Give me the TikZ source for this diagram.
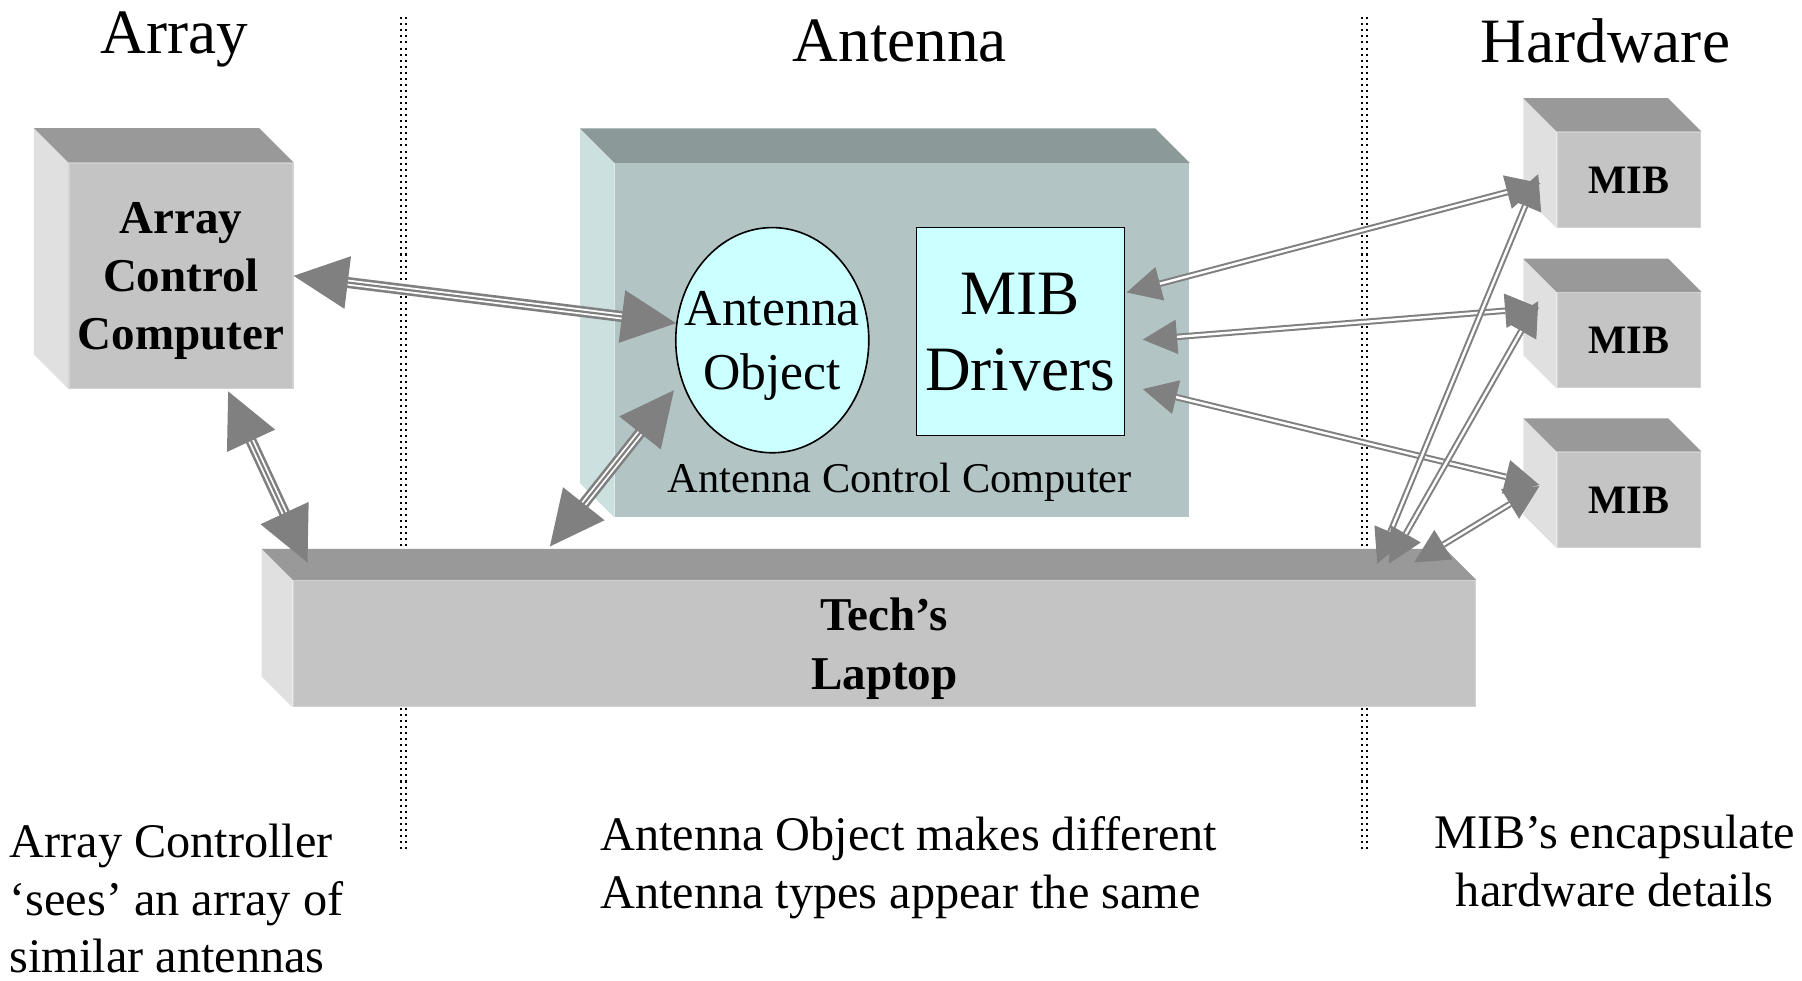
\documentclass[tikz,border=0pt]{standalone}
\usepackage{fontspec}
\setmainfont{Liberation Serif}
\usetikzlibrary{arrows.meta,shapes.geometric}

\definecolor{facegray}{HTML}{C4C4C4}
\definecolor{topgray}{HTML}{999999}
\definecolor{sidegray}{HTML}{E0E0E0}
\definecolor{edgegray}{HTML}{D2D2D2}
\definecolor{acface}{HTML}{B3C4C4}
\definecolor{actop}{HTML}{8C9999}
\definecolor{acside}{HTML}{CCE0E0}
\definecolor{objcyan}{HTML}{CCFFFF}
\definecolor{pipegray}{HTML}{808080}

\tikzset{
  front/.style={fill=facegray, draw=edgegray, line width=0.6pt, inner sep=0pt, align=center},
  head/.style={font=\fontsize{31.3}{37}\selectfont},
  note/.style={font=\fontsize{23.9}{28.5}\selectfont, align=left, inner sep=0pt},
  pipe3/.style={draw=pipegray, line width=1.1pt,
    {Triangle[length=27pt,width=26pt]}-{Triangle[length=27pt,width=26pt]},
    preaction={draw=pipegray, -, line width=1.3pt, double=white, double distance=2.9pt,
      shorten <=26pt, shorten >=26pt}},
  pipe2/.style={draw=pipegray, line width=0.5pt,
    {Triangle[length=17pt,width=17pt]}-{Triangle[length=17pt,width=17pt]},
    postaction={draw=pipegray, -, line width=1pt, double=white, double distance=1.2pt,
      shorten <=17pt, shorten >=17pt}}
}

\begin{document}
\begin{tikzpicture}[x=0.02cm, y=-0.02cm]
\useasboundingbox (0,0) rectangle (1568,853);

% headings
\node[head] at (152,34) (harray) {Array};
\node[head] at (783,36) (hant) {Antenna};
\node[head] at (1397,36) (hhw) {Hardware};

% dividers
\foreach \x in {348.8, 353.2, 1184.8, 1189.2}
  \draw[dotted, line width=1pt] (\x,15) -- (\x,740);

% array control computer
\node[front, minimum width=3.9cm, minimum height=3.92cm, text depth=0pt, font=\bfseries\fontsize{23.3}{28.7}\selectfont] at (157.5,240) (acc) {Array\\Control\\Computer};
\fill[sidegray] (acc.north west) -- ++(-30,-30) -- ([shift={(-30,-30)}]acc.south west) -- (acc.south west) -- cycle;
\fill[topgray] (acc.north west) -- ++(-30,-30) -- ([shift={(-30,-30)}]acc.north east) -- (acc.north east) -- cycle;

% antenna control computer
\node[fill=acface, minimum width=10cm, minimum height=6.16cm] at (785,296) (acf) {};
\fill[acside] (acf.north west) -- ++(-30,-30) -- ([shift={(-30,-30)}]acf.south west) -- (acf.south west) -- cycle;
\fill[actop] (acf.north west) -- ++(-30,-30) -- ([shift={(-30,-30)}]acf.north east) -- (acf.north east) -- cycle;
\node[ellipse, draw=black, line width=0.8pt, fill=objcyan, minimum width=3.36cm, minimum height=3.92cm, inner xsep=-0.36cm, inner ysep=0pt, text depth=0pt, align=center, font=\fontsize{25.6}{31.9}\selectfont] at (672,296) (ao) {Antenna\\Object};
\node[draw=black, fill=objcyan, minimum width=3.62cm, minimum height=3.62cm, text depth=0pt, align=center, font=\fontsize{31.3}{37.6}\selectfont] at (887.5,288.5) (drv) {MIB\\Drivers};
\node[font=\fontsize{21}{25}\selectfont] at (783,420) (accl) {Antenna Control Computer};

% hardware
\foreach \i/\y in {1/156.5, 2/296, 3/435} {
  \node[front, minimum width=2.5cm, minimum height=1.66cm, font=\bfseries\fontsize{20}{24}\selectfont] at (1417.5,\y) (mib\i) {MIB};
  \fill[sidegray] (mib\i.north west) -- ++(-29,-29) -- ([shift={(-29,-29)}]mib\i.south west) -- (mib\i.south west) -- cycle;
  \fill[topgray] (mib\i.north west) -- ++(-29,-29) -- ([shift={(-29,-29)}]mib\i.north east) -- (mib\i.north east) -- cycle;
}

% laptop
\node[front, minimum width=20.58cm, minimum height=2.2cm, text depth=0pt, font=\bfseries\fontsize{23.3}{29.6}\selectfont] at (769.5,560) (lap) {Tech’s\\Laptop};
\fill[sidegray] (lap.north west) -- ++(-27,-27) -- ([shift={(-27,-27)}]lap.south west) -- (lap.south west) -- cycle;
\fill[topgray] (lap.north west) -- ++(-27,-27) -- ([shift={(-27,-27)}]lap.north east) -- (lap.north east) -- cycle;

% links
\draw[pipe3] (acc.east) -- (ao.170);
\draw[pipe3] ([shift={(41,2)}]acc.south) -- ([shift={(13,-15)}]lap.north west);
\draw[pipe3] ([shift={(-8,4)}]ao.207) -- ([shift={(-291,-29)}]lap.north);
\draw[pipe2] ([shift={(2,-34)}]drv.east) -- ([shift={(-14,3)}]mib1.west);
\draw[pipe2] ([shift={(16,7)}]drv.east) -- ([shift={(-15,-28)}]mib2.west);
\draw[pipe2] ([shift={(16,50)}]drv.east) -- ([shift={(-15,-13)}]mib3.west);
\draw[pipe2] ([shift={(-86,-14)}]lap.north east) -- ([shift={(-16,-5)}]mib1.west);
\draw[pipe2] ([shift={(-76,-14)}]lap.north east) -- ([shift={(-16,-34)}]mib2.west);
\draw[pipe2] ([shift={(-54,-15)}]lap.north east) -- ([shift={(-15,-12)}]mib3.west);

% notes
\node[note, anchor=west] at (8,782) (narray) {Array Controller\\‘sees’ an array of\\similar antennas};
\node[note, anchor=west] at (522,755) (nant) {Antenna Object makes different\\Antenna types appear the same};
\node[note, align=center] at (1405,749) (nhw) {MIB’s encapsulate\\hardware details};
\end{tikzpicture}
\end{document}
